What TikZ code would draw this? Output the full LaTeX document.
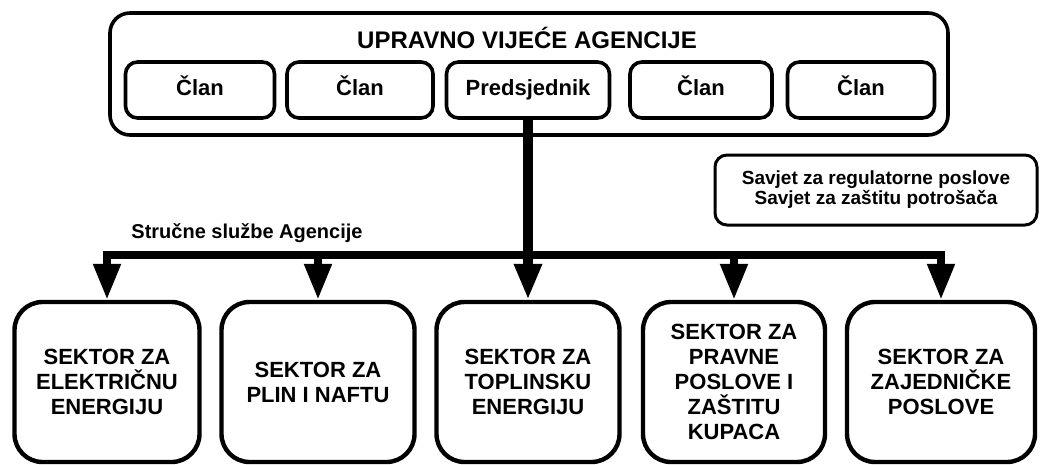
\documentclass[tikz,border=0pt]{standalone}
\usepackage{fontspec}
\setmainfont{Liberation Sans}
\usetikzlibrary{positioning}
\usetikzlibrary{arrows.meta}

\tikzset{
  clan/.style={draw, line width=1.8pt, rounded corners=6pt, minimum height=28pt, text height=8pt, text depth=2pt, font=\fontsize{11}{13}\selectfont\bfseries},
  sektor/.style={draw, line width=2.2pt, rounded corners=14pt, minimum height=80pt, align=center, font=\fontsize{11}{12.5}\selectfont\bfseries},
  veza/.style={line width=4pt, -{Triangle[length=18pt,width=13pt]}},
}

\begin{document}
\begin{tikzpicture}[x=0.5pt,y=-0.5pt]
  \useasboundingbox (0,0) rectangle (1043,465);

  \node[draw, line width=1.8pt, rounded corners=10pt, minimum width=419pt, minimum height=61pt] (vijece) at (529,74) {};
  \node[font=\fontsize{12}{14}\selectfont\bfseries] (naslov) at (527,38) {UPRAVNO VIJEĆE AGENCIJE};

  \node[clan, minimum width=74.5pt] (clan1) at (200,90) {Član};
  \node[clan, minimum width=73pt] (clan2) at (360,90) {Član};
  \node[clan, minimum width=81.5pt] (pred) at (528,90) {Predsjednik};
  \node[clan, minimum width=71pt] (clan3) at (701,90) {Član};
  \node[clan, minimum width=73.5pt] (clan4) at (861,90) {Član};

  \node[draw, line width=1.5pt, rounded corners=6pt, minimum width=161pt, minimum height=35pt, align=center, font=\fontsize{9.5}{10}\selectfont\bfseries] (savjet) at (876,190) {Savjet za regulatorne poslove\\Savjet za zaštitu potrošača};

  \node[font=\fontsize{10}{12}\selectfont\bfseries] (sluzbe) at (247,233) {Stručne službe Agencije};

  \node[sektor, minimum width=92.5pt] (sek1) at (107,382) {SEKTOR ZA\\ELEKTRIČNU\\ENERGIJU};
  \node[sektor, minimum width=96.5pt] (sek2) at (318,382) {SEKTOR ZA\\PLIN I NAFTU};
  \node[sektor, minimum width=91.5pt] (sek3) at (528,382) {SEKTOR ZA\\TOPLINSKU\\ENERGIJU};
  \node[sektor, minimum width=91pt] (sek4) at (734,382) {SEKTOR ZA\\PRAVNE\\POSLOVE I\\ZAŠTITU\\KUPACA};
  \node[sektor, minimum width=94pt] (sek5) at (941,382) {SEKTOR ZA\\ZAJEDNIČKE\\POSLOVE};

  \coordinate (racva) at (528,255);
  \draw[line width=4pt, line cap=rect] (sek1.north |- racva) -- (sek5.north |- racva);
  \draw[veza, line width=5pt] (pred.south) -- (sek3.north);
  \draw[veza] (sek1.north |- racva) -- (sek1.north);
  \draw[veza] (sek2.north |- racva) -- (sek2.north);
  \draw[veza] (sek4.north |- racva) -- (sek4.north);
  \draw[veza] (sek5.north |- racva) -- (sek5.north);
\end{tikzpicture}
\end{document}
